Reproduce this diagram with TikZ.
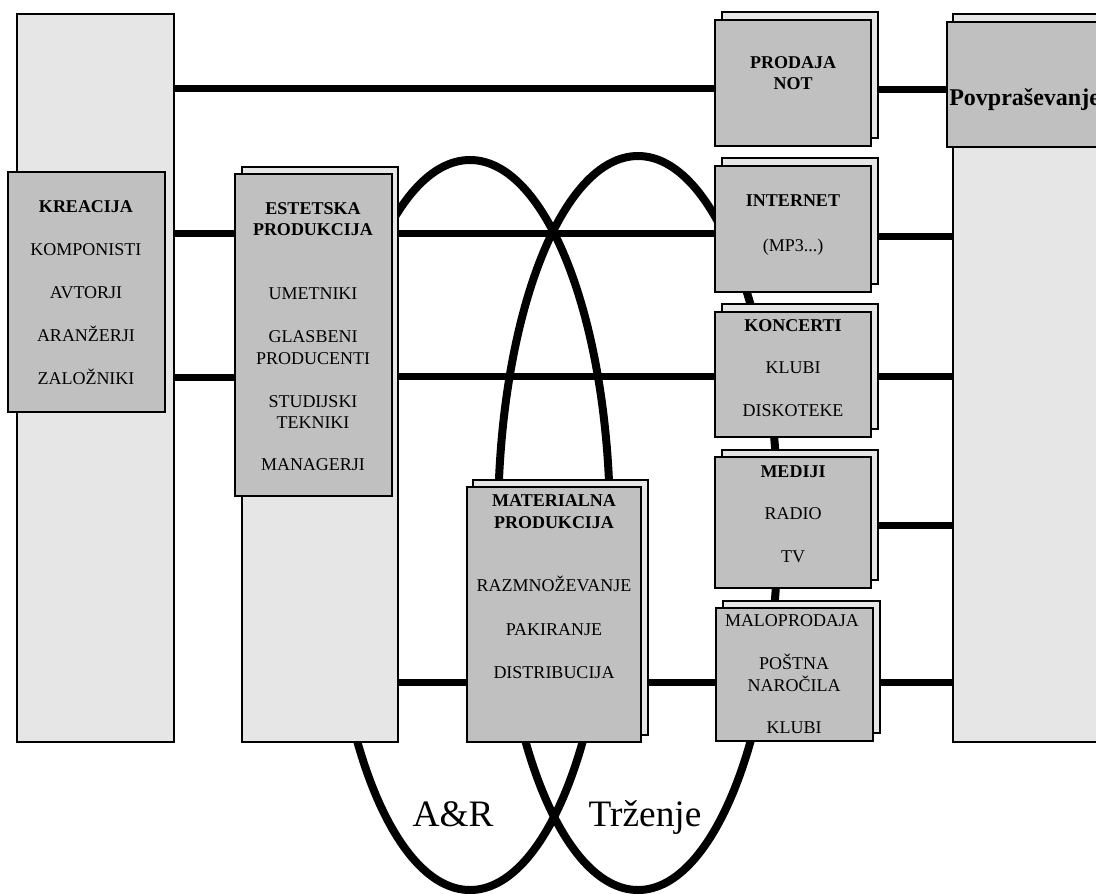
\documentclass[tikz,border=0pt]{standalone}
\usepackage{fontspec}
\setmainfont{Liberation Serif}
\usetikzlibrary{fit}
\definecolor{lightg}{HTML}{E6E6E6}
\definecolor{midg}{HTML}{C0C0C0}
\begin{document}
\begin{tikzpicture}[x=0.75pt,y=-0.75pt,
  tallbox/.style={draw=black, line width=1.1pt, fill=lightg, inner sep=0pt},
  backbox/.style={draw=black, line width=1.2pt, fill=lightg, inner sep=0pt},
  frontbox/.style={draw=black, line width=1.2pt, fill=midg, inner sep=0pt},
  conn/.style={line width=5.25pt},
  loopline/.style={line width=6pt},
  lbl/.style={font=\fontsize{13.5}{15}\selectfont, anchor=base, inner sep=0pt},
  blbl/.style={font=\fontsize{13.5}{15}\selectfont\bfseries, anchor=base, inner sep=0pt},
  biglbl/.style={font=\fontsize{28}{32}\selectfont, anchor=base, inner sep=0pt}]
\useasboundingbox (0,0) rectangle (1096,893);
\clip (0,0) rectangle (1096,893);

% loops (behind everything)
\draw[loopline] (470,525) ellipse [x radius=140, y radius=365];
\draw[loopline] (638,523) ellipse [x radius=140, y radius=367];

% tall column boxes
\node[tallbox, fit={(17,14) (174,742)}] (colA) {};
\node[tallbox, fit={(242,167) (398,742)}] (colB) {};
\node[tallbox, fit={(953,14) (1110,742)}] (colD) {};

% back boxes
\node[backbox, fit={(473,480) (648,735)}] (matB) {};
\node[backbox, fit={(722,12) (878,138)}] (prodB) {};
\node[backbox, fit={(722,158) (878,284)}] (intB) {};
\node[backbox, fit={(722,304) (878,429)}] (konB) {};
\node[backbox, fit={(722,450) (878,580)}] (medB) {};
\node[backbox, fit={(723,601) (880,733)}] (malB) {};

% connectors
\draw[conn] (colA.east |- 0,88) -- (prodB.west |- 0,88);
\draw[conn] (colA.east |- 0,233) -- (colB.west |- 0,233);
\draw[conn] (colA.east |- 0,377) -- (colB.west |- 0,377);
\draw[conn] (colB.east |- 0,233) -- (intB.west |- 0,233);
\draw[conn] (colB.east |- 0,376) -- (konB.west |- 0,376);
\draw[conn] (colB.east |- 0,682) -- (matB.west |- 0,682);
\draw[conn] (matB.east |- 0,682) -- (malB.west |- 0,682);
\draw[conn] (prodB.east |- 0,89) -- (colD.west |- 0,89);
\draw[conn] (intB.east |- 0,236) -- (colD.west |- 0,236);
\draw[conn] (konB.east |- 0,376) -- (colD.west |- 0,376);
\draw[conn] (medB.east |- 0,525) -- (colD.west |- 0,525);
\draw[conn] (malB.east |- 0,682) -- (colD.west |- 0,682);

% front boxes
\node[frontbox, fit={(8,172) (165,412)}] (krea) {};
\node[frontbox, fit={(235,174) (392,496)}] (este) {};
\node[frontbox, fit={(467,487) (641,742)}] (mat) {};
\node[frontbox, fit={(715,20) (871,146)}] (prod) {};
\node[frontbox, fit={(715,166) (871,292)}] (int) {};
\node[frontbox, fit={(715,312) (871,437)}] (kon) {};
\node[frontbox, fit={(715,457) (871,588)}] (med) {};
\node[frontbox, fit={(716,608) (873,741)}] (mal) {};
\node[frontbox, fit={(947,22) (1110,147)}] (povp) {};

% texts
\node[blbl] (t01) at (86,212) {KREACIJA};
\node[lbl] (t02) at (86,255) {KOMPONISTI};
\node[lbl] (t03) at (86,298) {AVTORJI};
\node[lbl] (t04) at (86,341) {ARANŽERJI};
\node[lbl] (t05) at (86,384) {ZALOŽNIKI};

\node[blbl] (t11) at (313,214) {ESTETSKA};
\node[blbl] (t12) at (313,235) {PRODUKCIJA};
\node[lbl] (t13) at (313,299) {UMETNIKI};
\node[lbl] (t14) at (313,342) {GLASBENI};
\node[lbl] (t15) at (313,364) {PRODUCENTI};
\node[lbl] (t16) at (313,407) {STUDIJSKI};
\node[lbl] (t17) at (313,428) {TEKNIKI};
\node[lbl] (t18) at (313,470) {MANAGERJI};

\node[blbl] (t21) at (554,506) {MATERIALNA};
\node[blbl] (t22) at (554,528) {PRODUKCIJA};
\node[lbl] (t23) at (554,591) {RAZMNOŽEVANJE};
\node[lbl] (t24) at (554,635) {PAKIRANJE};
\node[lbl] (t25) at (554,678) {DISTRIBUCIJA};

\node[blbl] (t31) at (793,68) {PRODAJA};
\node[blbl] (t32) at (793,89) {NOT};
\node[blbl] (t33) at (793,206) {INTERNET};
\node[lbl] (t34) at (793,251) {(MP3...)};
\node[blbl] (t35) at (793,331) {KONCERTI};
\node[lbl] (t36) at (793,373) {KLUBI};
\node[lbl] (t37) at (793,416) {DISKOTEKE};
\node[blbl] (t38) at (793,477) {MEDIJI};
\node[lbl] (t39) at (793,519) {RADIO};
\node[lbl] (t40) at (793,562) {TV};
\node[lbl] (t41) at (792,626) {MALOPRODAJA};
\node[lbl] (t42) at (794,669) {POŠTNA};
\node[lbl] (t43) at (794,691) {NAROČILA};
\node[lbl] (t44) at (794,733) {KLUBI};

\node[font=\fontsize{18}{20}\selectfont\bfseries, anchor=base west, inner sep=0pt] (t50) at (949,105) {Povpraševanje};

\node[biglbl] (ar) at (453,826) {A\&R};
\node[biglbl] (trz) at (645,826) {Trženje};
\end{tikzpicture}
\end{document}
